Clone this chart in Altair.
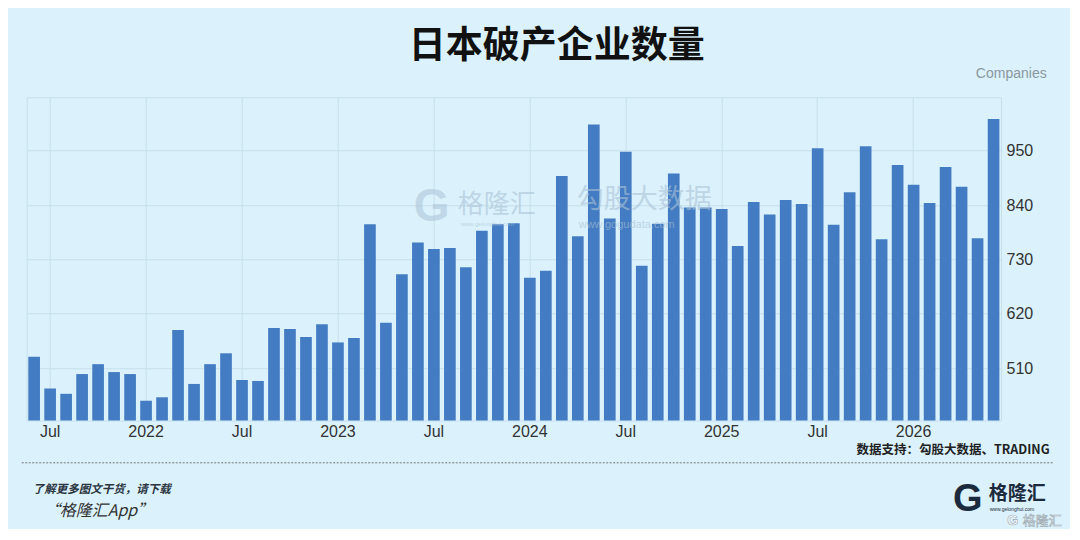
import altair as alt
import pandas as pd

# ---- data ----
months = (
    [f"2021-{m:02d}" for m in range(6, 13)]
    + [f"{y}-{m:02d}" for y in (2022, 2023, 2024, 2025) for m in range(1, 13)]
    + [f"2026-{m:02d}" for m in range(1, 7)]
)
counts = [
    533, 469, 458, 498, 518, 502, 498,                      # 2021 Jun-Dec
    444, 451, 587, 478, 518, 540, 486, 484, 591, 589, 573, 599,  # 2022
    562, 571, 801, 602, 700, 764, 751, 753, 714, 788, 801, 803,  # 2023
    693, 707, 899, 777, 1003, 813, 948, 717, 802, 904, 835, 835, # 2024
    832, 757, 846, 821, 850, 842, 955, 800, 866, 959, 771, 921,  # 2025
    881, 844, 917, 877, 773, 1014,                           # 2026 Jan-Jun
]
y_ticks = [510, 620, 730, 840, 950]
y_domain = [404, 1058]
x_label_months = [m for m in months if m[5:] in ("01", "07")]

title_text = "日本破产企业数量"
unit_text = "Companies"
source_text = "数据支持：勾股大数据、TRADING"
promo_line1 = "了解更多图文干货，请下载"
promo_line2 = "“格隆汇App”"

df = pd.DataFrame({"month": months, "count": counts})

BG = "#dbf2fc"
GRID = "#c6dfeb"
BAR = "#437cc2"
CJK = "Noto Sans CJK SC"
LAT = "Liberation Sans"

bars = alt.Chart(df).mark_bar(color=BAR).encode(
    x=alt.X(
        "month:O",
        sort=months,
        scale=alt.Scale(paddingInner=0.27, paddingOuter=0.1),
        axis=alt.Axis(
            values=x_label_months,
            labelExpr="substring(datum.value,5,7)=='07' ? 'Jul' : substring(datum.value,0,4)",
            title=None,
            labelAngle=0,
            ticks=False,
            domain=False,
            grid=True,
            gridColor=GRID,
            bandPosition=0.5,
            labelFont=LAT,
            labelFontSize=16,
            labelColor="#333333",
            labelPadding=3,
        ),
    ),
    y=alt.Y(
        "count:Q",
        scale=alt.Scale(domain=y_domain, nice=False, zero=False),
        axis=alt.Axis(
            orient="right",
            values=y_ticks,
            title=None,
            ticks=False,
            domain=False,
            grid=True,
            gridColor=GRID,
            labelFont=LAT,
            labelFontSize=16,
            labelColor="#333333",
            labelPadding=5,
        ),
    ),
    y2=alt.datum(y_domain[0]),
)


def txt(text, x, y, **kw):
    return alt.Chart(pd.DataFrame({"t": [text]})).mark_text(**kw).encode(
        x=alt.value(x), y=alt.value(y), text="t:N"
    )


layers = [
    bars,
    # watermark
    txt("G", 405, 110, font=LAT, fontSize=46, fontWeight="bold", color="#aac2d6",
        opacity=0.55, align="center", baseline="middle"),
    txt("格隆汇", 431, 108, font=CJK, fontSize=26, color="#aac2d6", opacity=0.6,
        align="left", baseline="middle"),
    txt("www.gelonghui.com", 434, 127, font=LAT, fontSize=6, color="#aac2d6",
        opacity=0.6, align="left", baseline="middle"),
    txt("勾股大数据", 550, 103, font=CJK, fontSize=27, color="#aac2d6", opacity=0.6,
        align="left", baseline="middle"),
    txt("www.gogudata.com", 552, 128, font=LAT, fontSize=11, color="#aac2d6",
        opacity=0.6, align="left", baseline="middle"),
    # title & unit
    txt(title_text, 530, -50, font=CJK, fontSize=37, fontWeight="bold", color="#111111",
        align="center", baseline="middle"),
    txt(unit_text, 1020, -23, font=LAT, fontSize=14, color="#8a979f",
        align="right", baseline="middle"),
    # source & separator
    txt(source_text, 1023, 353, font=CJK, fontSize=12.5, fontWeight="bold",
        color="#222222", align="right", baseline="middle"),
    alt.Chart(pd.DataFrame({"a": [0]})).mark_rule(
        color="#777777", strokeWidth=1, strokeDash=[2, 1.5]
    ).encode(x=alt.value(-5), x2=alt.value(1026), y=alt.value(365.5)),
    # footer left
    txt(promo_line1, 6, 393, font=CJK, fontSize=11.5, fontWeight="bold",
        fontStyle="italic", color="#2b3540", align="left", baseline="middle"),
    txt(promo_line2, 17, 414, font=CJK, fontSize=16, fontStyle="italic",
        color="#333333", align="left", baseline="middle"),
    # footer logo
    txt("G", 941, 403, font=LAT, fontSize=38, fontWeight="bold", color="#1b2a3c",
        align="center", baseline="middle"),
    txt("格隆汇", 962, 397, font=CJK, fontSize=19, fontWeight="bold", color="#1b2a3c",
        align="left", baseline="middle"),
    txt("www.gelonghui.com", 963, 411.5, font=LAT, fontSize=5, color="#1b2a3c",
        align="left", baseline="middle"),
    txt("G", 986, 424, font=LAT, fontSize=14, fontWeight="bold", color="#ffffff",
        stroke="#9aa8b0", strokeWidth=0.6, align="center", baseline="middle"),
    txt("格隆汇", 996, 424, font=CJK, fontSize=13, color="#ffffff",
        stroke="#9aa8b0", strokeWidth=0.6, align="left", baseline="middle"),
]

chart = alt.layer(*layers).properties(
    width=974.3,
    height=323.2,
    padding={"left": 18.7, "top": 89.3, "right": 69, "bottom": 108},
    autosize=alt.AutoSizeParams(type="none"),
    background=BG,
).configure_view(stroke=GRID, fill=BG)

chart.save("out.html", embed_options={"renderer": "svg", "actions": False})
